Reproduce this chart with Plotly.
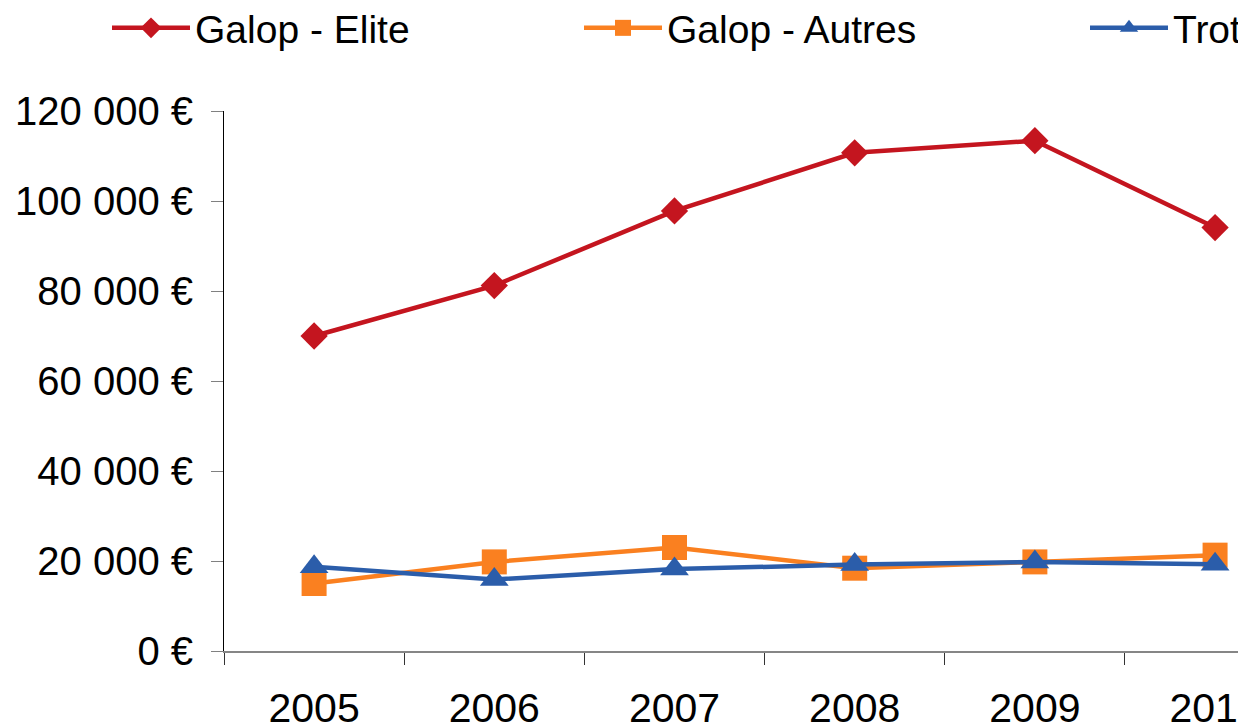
import plotly.graph_objects as go

years = ["2005", "2006", "2007", "2008", "2009", "2010"]
galop_elite = [70000, 81200, 97800, 110700, 113400, 94100]
galop_autres = [15000, 19800, 23000, 18400, 19800, 21300]
trot = [18700, 15900, 18200, 19200, 19800, 19300]

series_names = ["Galop - Elite", "Galop - Autres", "Trot"]
y_tickvals = [0, 20000, 40000, 60000, 80000, 100000, 120000]
y_ticktext = ["0 €", "20 000 €", "40 000 €", "60 000 €", "80 000 €", "100 000 €", "120 000 €"]

RED = "#C4151F"
ORANGE = "#FA8020"
BLUE = "#2B5DAA"
FONT = "Liberation Sans, Arial, sans-serif"

OFF = 8  # page offset of the figure div (body margin)
W, H = 1246, 725
ML, MR, MT, MB = 224 - OFF, 0, 111 - OFF, 82
PW = W - ML - MR
PH = H - MT - MB


def px_x(px):
    return (px - OFF - ML) / PW


def px_y(py):
    return 1 + (MT - (py - OFF)) / PH


fig = go.Figure()
fig.add_trace(go.Scatter(
    x=years, y=galop_elite, name=series_names[0], mode="lines+markers",
    line=dict(color=RED, width=4.5),
    marker=dict(symbol="diamond", size=21, color=RED),
    legend="legend",
))
fig.add_trace(go.Scatter(
    x=years, y=galop_autres, name=series_names[1], mode="lines+markers",
    line=dict(color=ORANGE, width=4.5),
    marker=dict(symbol="square", size=25, color=ORANGE),
    legend="legend2",
))
fig.add_trace(go.Scatter(
    x=years, y=trot, name=series_names[2], mode="lines+markers",
    line=dict(color=BLUE, width=4.5),
    marker=dict(symbol="triangle-up", size=25, color=BLUE),
    legend="legend3",
))

leg_common = dict(
    orientation="h", xanchor="left", yanchor="middle",
    font=dict(family=FONT, size=39, color="black"),
    itemwidth=78, bgcolor="rgba(0,0,0,0)", borderwidth=0,
)

fig.update_layout(
    width=W, height=H,
    margin=dict(l=ML, r=MR, t=MT, b=MB, pad=0, autoexpand=False),
    paper_bgcolor="white", plot_bgcolor="white",
    font=dict(family=FONT, size=40, color="black"),
    showlegend=True,
    legend=dict(x=px_x(107), y=px_y(28), **leg_common),
    legend2=dict(x=px_x(579), y=px_y(28), **leg_common),
    legend3=dict(x=px_x(1085), y=px_y(28), **leg_common),
    xaxis=dict(
        type="category", range=[-0.5, 5.216], tickson="boundaries",
        ticks="outside", ticklen=12, tickwidth=1, tickcolor="#333333",
        showline=True, linecolor="#868686", linewidth=2,
        showgrid=False, zeroline=False, automargin=False,
        tickfont=dict(family=FONT, size=41, color="black"),
        ticklabelstandoff=20,
    ),
    yaxis=dict(
        range=[0, 120000], tickvals=y_tickvals, ticktext=y_ticktext,
        ticks="outside", ticklen=12, tickwidth=1, tickcolor="#808080",
        showline=True, linecolor="black", linewidth=1,
        showgrid=False, zeroline=False, automargin=False,
        tickfont=dict(family=FONT, size=40, color="black"),
        ticklabelstandoff=10,
    ),
)

fig.write_html("out.html")
